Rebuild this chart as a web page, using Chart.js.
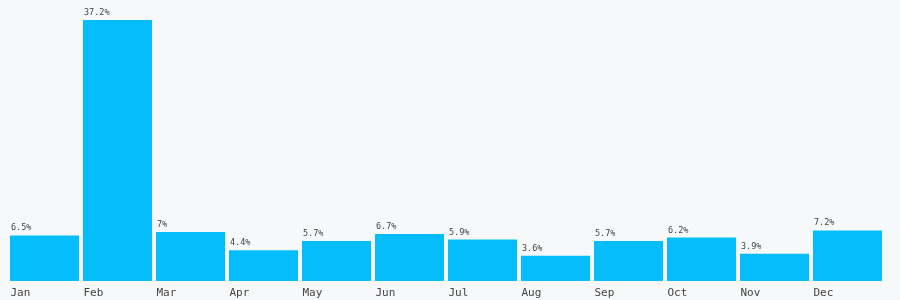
<!DOCTYPE html>
<html>
<head>
<meta charset="utf-8">
<script src="https://cdn.jsdelivr.net/npm/chart.js@4"></script>
<style>
  html, body { margin: 0; padding: 0; background: #f7f8fa; }
  #wrap { width: 900px; height: 300px; }
</style>
</head>
<body>
<div id="wrap"><canvas id="chart"></canvas></div>
<script>
const months = ['Jan', 'Feb', 'Mar', 'Apr', 'May', 'Jun', 'Jul', 'Aug', 'Sep', 'Oct', 'Nov', 'Dec'];
const shares = [6.5, 37.2, 7, 4.4, 5.7, 6.7, 5.9, 3.6, 5.7, 6.2, 3.9, 7.2];

const mono = 'DejaVu Sans Mono, monospace';

// value labels sitting on top of each bar, left aligned
const topLabels = {
  id: 'topLabels',
  afterDatasetsDraw(chart) {
    const ctx = chart.ctx;
    const meta = chart.getDatasetMeta(0);
    ctx.save();
    ctx.font = '8.5px ' + mono;
    ctx.fillStyle = '#444';
    ctx.textAlign = 'left';
    ctx.textBaseline = 'alphabetic';
    meta.data.forEach((bar, i) => {
      ctx.fillText(shares[i] + '%', bar.x - bar.width / 2 + 1, bar.y - 5);
    });
    ctx.restore();
  }
};

const ctx = document.getElementById('chart').getContext('2d');
const myChart = new Chart(ctx, {
  type: 'bar',
  data: {
    labels: months,
    datasets: [{
      data: shares,
      backgroundColor: '#05bdfb',
      borderWidth: 0,
      categoryPercentage: 1,
      barPercentage: 69 / 73
    }]
  },
  options: {
    responsive: true,
    maintainAspectRatio: false,
    animation: false,
    layout: { padding: { left: 8, right: 16, top: 20, bottom: 0 } },
    plugins: {
      legend: { display: false },
      tooltip: { enabled: false }
    },
    scales: {
      x: {
        grid: { display: false, drawTicks: false },
        border: { display: false },
        afterFit(scale) { scale.height = 19; },
        ticks: {
          align: 'start',
          labelOffset: -34,
          padding: 6,
          color: '#444',
          font: { family: mono, size: 11 }
        }
      },
      y: {
        display: false,
        min: 0,
        max: 37.2
      }
    }
  },
  plugins: [topLabels]
});
</script>
</body>
</html>
